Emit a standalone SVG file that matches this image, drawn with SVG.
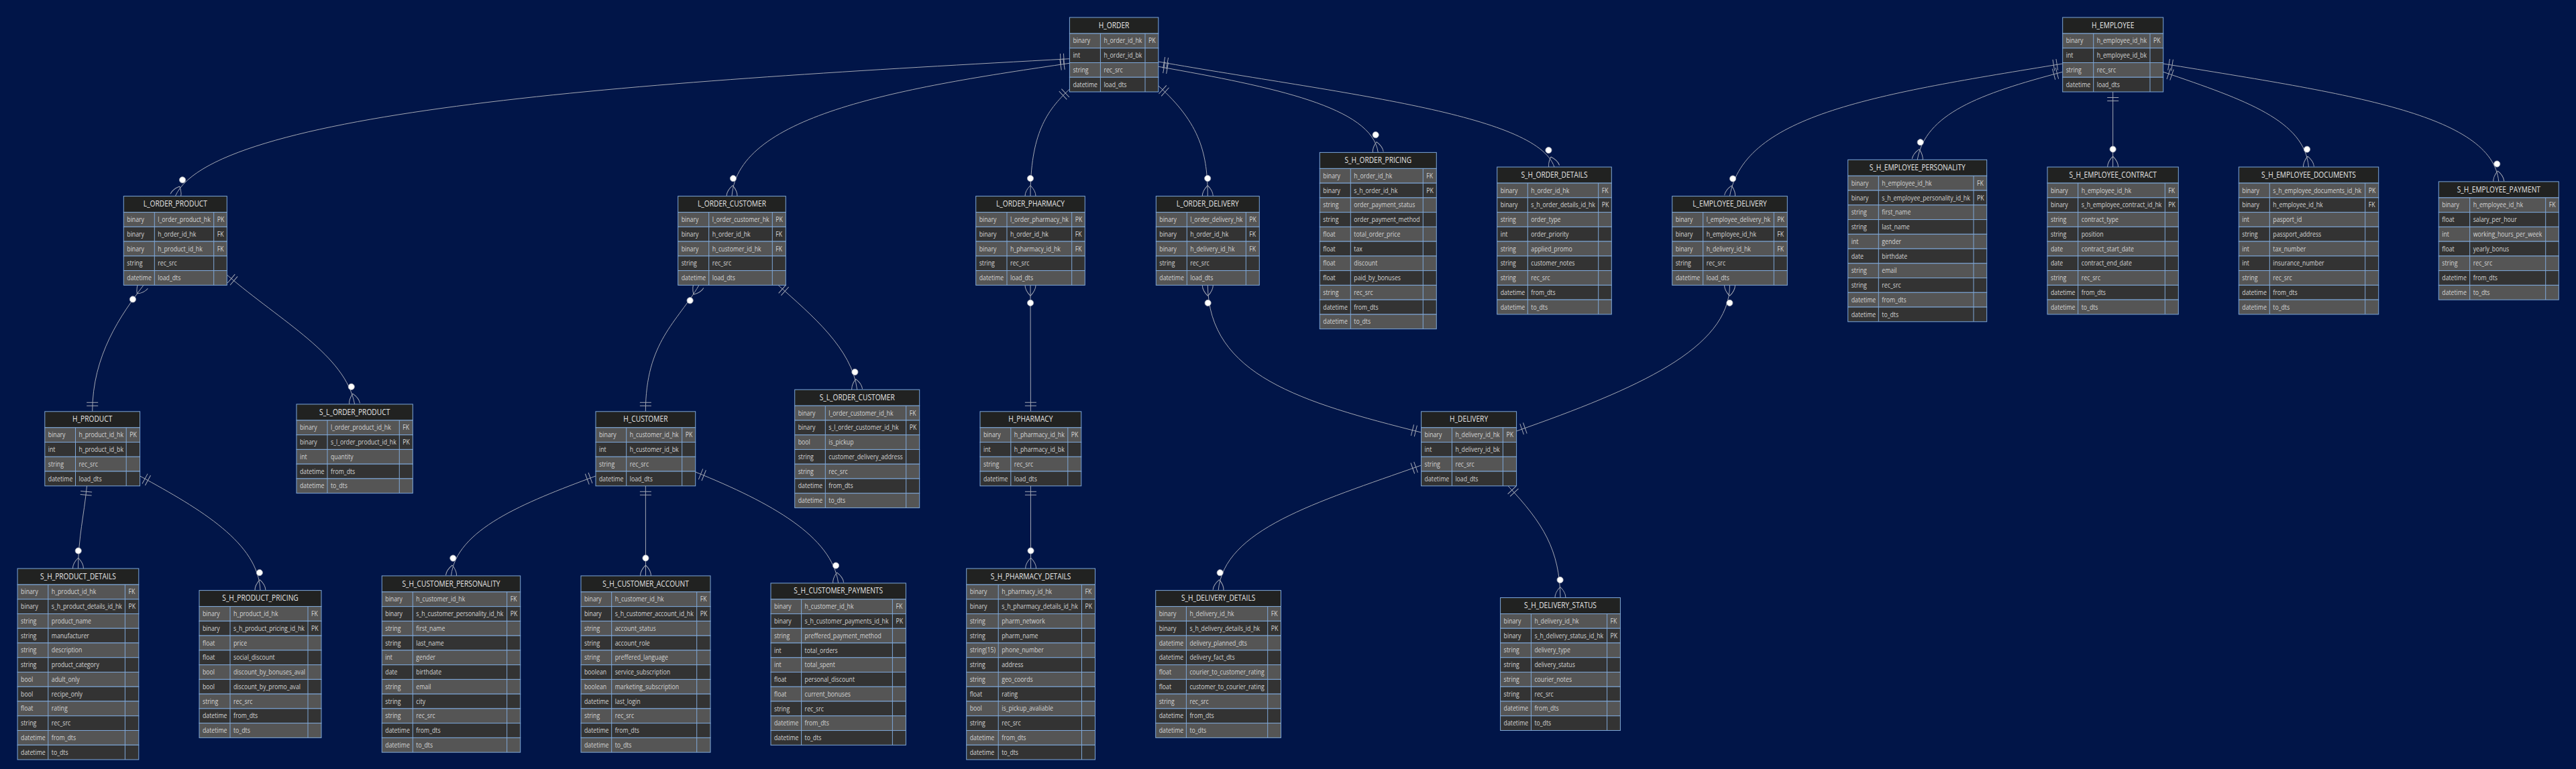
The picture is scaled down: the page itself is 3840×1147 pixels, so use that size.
<svg xmlns="http://www.w3.org/2000/svg" width="3840" height="1147" viewBox="0 0 3840 1147">
<defs>
<style>
.bg{fill:#011548}
.hd{fill:#212221;stroke:#7fa8d9;stroke-width:1}
.a{fill:#555555;stroke:#7fa8d9;stroke-width:1}
.b{fill:#333333;stroke:#7fa8d9;stroke-width:1}
.cl{fill:none;stroke:#7fa8d9;stroke-width:1}
.ht{font-family:'Open Sans','Noto Sans',sans-serif;font-size:12.3px;fill:#e6e6e6;text-anchor:middle}
.t{font-family:'Open Sans','Noto Sans',sans-serif;font-size:10.6px;fill:#d4d4d4}
.cn{fill:none;stroke:#a3a7b3;stroke-width:1;marker-start:url(#one);marker-end:url(#many)}
.mk{fill:none;stroke:#a3a7b3;stroke-width:1}
</style>
<marker id="one" viewBox="-20 -20 40 40" refX="0" refY="0" markerWidth="40" markerHeight="40" markerUnits="userSpaceOnUse" orient="auto">
<path class="mk" d="M8.5,-8.5V8.5M13.5,-8.5V8.5"/>
</marker>
<marker id="many" viewBox="-40 -20 44 40" refX="0" refY="0" markerWidth="44" markerHeight="40" markerUnits="userSpaceOnUse" orient="auto">
<path class="mk" d="M-16,0Q-8,-8 0,-8M-16,0Q-8,8 0,8"/>
<circle cx="-26.5" cy="0" r="4.6" fill="#ffffff" stroke="#a3a7b3" stroke-width="0.8"/>
</marker>
</defs>
<rect class="bg" width="3840" height="1147"/>

<g id="connectors">
<path class="cn" d="M1594.4,87.7C1000,120 320,160 261.3,292.6"/>
<path class="cn" d="M1594.4,94.3C1350,130 1100,170 1091,292.6"/>
<path class="cn" d="M1594.4,133C1560,165 1536,200 1536,292.6"/>
<path class="cn" d="M1726.8,128C1790,185 1800,230 1800.3,292.6"/>
<path class="cn" d="M1726.8,99.3C1900,130 2045,160 2054.3,227.4"/>
<path class="cn" d="M1726.8,92C2000,140 2290,170 2317,249.1"/>
<path class="cn" d="M137.7,613.8C137.7,530 180,470 214,425.35"/>
<path class="cn" d="M338.3,410C420,480 515,530 528.65,602.9"/>
<path class="cn" d="M129.5,724.8C125,770 117,800 116.45,848"/>
<path class="cn" d="M208.6,710C300,760 385,810 388,880.6"/>
<path class="cn" d="M962.35,613.8C962.35,510 1010,480 1042,425.35"/>
<path class="cn" d="M1160,425.35C1210,470 1270,520 1277.7,581.2"/>
<path class="cn" d="M888,710C780,750 680,790 672.5,858.9"/>
<path class="cn" d="M962.35,724.8L962.5,858.9"/>
<path class="cn" d="M1036.7,704C1150,750 1240,800 1249.7,869.8"/>
<path class="cn" d="M1536.4,613.8L1536,425.35"/>
<path class="cn" d="M1536.4,724.8L1536.6,848"/>
<path class="cn" d="M2118.6,645C1940,600 1802,560 1800.3,425.35"/>
<path class="cn" d="M2260.6,643C2440,580 2578,520 2578.5,425.35"/>
<path class="cn" d="M2118.6,694C1960,750 1825,790 1816.1,880.6"/>
<path class="cn" d="M2248,724.8C2300,780 2325,820 2326,891.5"/>
<path class="cn" d="M3074.7,95C2800,140 2600,170 2578.5,292.6"/>
<path class="cn" d="M3074.7,107.3C2950,140 2870,170 2858.2,238.3"/>
<path class="cn" d="M3149.7,137L3149.65,249.1"/>
<path class="cn" d="M3224.7,107.3C3350,150 3435,180 3441.5,249.1"/>
<path class="cn" d="M3224.7,95C3500,140 3715,170 3724.8,270.9"/>
</g>

<g id="H_ORDER" transform="translate(1594.4,26)">
<rect class="hd" width="132.4" height="24"/>
<rect class="a" y="24" width="132.4" height="21.75"/><rect class="b" y="45.75" width="132.4" height="21.75"/><rect class="a" y="67.5" width="132.4" height="21.75"/><rect class="b" y="89.25" width="132.4" height="21.75"/>
<path class="cl" d="M46,24V111M112.6,24V111"/>
<text class="ht" transform="translate(66.2,15.6) scale(.83,1)">H_ORDER</text>
<g class="t" transform="translate(5,0) scale(.825,1)"><text y="38.5">binary</text><text y="60.25">int</text><text y="82">string</text><text y="103.75">datetime</text></g>
<g class="t" transform="translate(51,0) scale(.825,1)"><text y="38.5">h_order_id_hk</text><text y="60.25">h_order_id_bk</text><text y="82">rec_src</text><text y="103.75">load_dts</text></g>
<g class="t" transform="translate(117.6,0) scale(.825,1)"><text y="38.5">PK</text></g>
</g>

<g id="L_ORDER_PRODUCT" transform="translate(184.3,292.6)">
<rect class="hd" width="154" height="24"/>
<rect class="a" y="24" width="154" height="21.75"/><rect class="b" y="45.75" width="154" height="21.75"/><rect class="a" y="67.5" width="154" height="21.75"/><rect class="b" y="89.25" width="154" height="21.75"/><rect class="a" y="111" width="154" height="21.75"/>
<path class="cl" d="M46,24V132.75M134.4,24V132.75"/>
<text class="ht" transform="translate(77,15.6) scale(.83,1)">L_ORDER_PRODUCT</text>
<g class="t" transform="translate(5,0) scale(.825,1)"><text y="38.5">binary</text><text y="60.25">binary</text><text y="82">binary</text><text y="103.75">string</text><text y="125.5">datetime</text></g>
<g class="t" transform="translate(51,0) scale(.825,1)"><text y="38.5">l_order_product_hk</text><text y="60.25">h_order_id_hk</text><text y="82">h_product_id_hk</text><text y="103.75">rec_src</text><text y="125.5">load_dts</text></g>
<g class="t" transform="translate(139.4,0) scale(.825,1)"><text y="38.5">PK</text><text y="60.25">FK</text><text y="82">FK</text></g>
</g>

<g id="L_ORDER_CUSTOMER" transform="translate(1010.7,292.6)">
<rect class="hd" width="160.6" height="24"/>
<rect class="a" y="24" width="160.6" height="21.75"/><rect class="b" y="45.75" width="160.6" height="21.75"/><rect class="a" y="67.5" width="160.6" height="21.75"/><rect class="b" y="89.25" width="160.6" height="21.75"/><rect class="a" y="111" width="160.6" height="21.75"/>
<path class="cl" d="M46,24V132.75M140.6,24V132.75"/>
<text class="ht" transform="translate(80.3,15.6) scale(.83,1)">L_ORDER_CUSTOMER</text>
<g class="t" transform="translate(5,0) scale(.825,1)"><text y="38.5">binary</text><text y="60.25">binary</text><text y="82">binary</text><text y="103.75">string</text><text y="125.5">datetime</text></g>
<g class="t" transform="translate(51,0) scale(.825,1)"><text y="38.5">l_order_customer_hk</text><text y="60.25">h_order_id_hk</text><text y="82">h_customer_id_hk</text><text y="103.75">rec_src</text><text y="125.5">load_dts</text></g>
<g class="t" transform="translate(145.6,0) scale(.825,1)"><text y="38.5">PK</text><text y="60.25">FK</text><text y="82">FK</text></g>
</g>

<g id="L_ORDER_PHARMACY" transform="translate(1454.7,292.6)">
<rect class="hd" width="162.6" height="24"/>
<rect class="a" y="24" width="162.6" height="21.75"/><rect class="b" y="45.75" width="162.6" height="21.75"/><rect class="a" y="67.5" width="162.6" height="21.75"/><rect class="b" y="89.25" width="162.6" height="21.75"/><rect class="a" y="111" width="162.6" height="21.75"/>
<path class="cl" d="M46.3,24V132.75M143,24V132.75"/>
<text class="ht" transform="translate(81.3,15.6) scale(.83,1)">L_ORDER_PHARMACY</text>
<g class="t" transform="translate(5,0) scale(.825,1)"><text y="38.5">binary</text><text y="60.25">binary</text><text y="82">binary</text><text y="103.75">string</text><text y="125.5">datetime</text></g>
<g class="t" transform="translate(51.3,0) scale(.825,1)"><text y="38.5">l_order_pharmacy_hk</text><text y="60.25">h_order_id_hk</text><text y="82">h_pharmacy_id_hk</text><text y="103.75">rec_src</text><text y="125.5">load_dts</text></g>
<g class="t" transform="translate(148,0) scale(.825,1)"><text y="38.5">PK</text><text y="60.25">FK</text><text y="82">FK</text></g>
</g>

<g id="L_ORDER_DELIVERY" transform="translate(1723.3,292.6)">
<rect class="hd" width="154" height="24"/>
<rect class="a" y="24" width="154" height="21.75"/><rect class="b" y="45.75" width="154" height="21.75"/><rect class="a" y="67.5" width="154" height="21.75"/><rect class="b" y="89.25" width="154" height="21.75"/><rect class="a" y="111" width="154" height="21.75"/>
<path class="cl" d="M46,24V132.75M134,24V132.75"/>
<text class="ht" transform="translate(77,15.6) scale(.83,1)">L_ORDER_DELIVERY</text>
<g class="t" transform="translate(5,0) scale(.825,1)"><text y="38.5">binary</text><text y="60.25">binary</text><text y="82">binary</text><text y="103.75">string</text><text y="125.5">datetime</text></g>
<g class="t" transform="translate(51,0) scale(.825,1)"><text y="38.5">l_order_delivery_hk</text><text y="60.25">h_order_id_hk</text><text y="82">h_delivery_id_hk</text><text y="103.75">rec_src</text><text y="125.5">load_dts</text></g>
<g class="t" transform="translate(139,0) scale(.825,1)"><text y="38.5">PK</text><text y="60.25">FK</text><text y="82">FK</text></g>
</g>

<g id="S_H_ORDER_PRICING" transform="translate(1967.3,227.4)">
<rect class="hd" width="174" height="24"/>
<rect class="a" y="24" width="174" height="21.75"/><rect class="b" y="45.75" width="174" height="21.75"/><rect class="a" y="67.5" width="174" height="21.75"/><rect class="b" y="89.25" width="174" height="21.75"/><rect class="a" y="111" width="174" height="21.75"/><rect class="b" y="132.75" width="174" height="21.75"/><rect class="a" y="154.5" width="174" height="21.75"/><rect class="b" y="176.25" width="174" height="21.75"/><rect class="a" y="198" width="174" height="21.75"/><rect class="b" y="219.75" width="174" height="21.75"/><rect class="a" y="241.5" width="174" height="21.75"/>
<path class="cl" d="M46,24V263.25M154,24V263.25"/>
<text class="ht" transform="translate(87,15.6) scale(.83,1)">S_H_ORDER_PRICING</text>
<g class="t" transform="translate(5,0) scale(.825,1)"><text y="38.5">binary</text><text y="60.25">binary</text><text y="82">string</text><text y="103.75">string</text><text y="125.5">float</text><text y="147.25">float</text><text y="169">float</text><text y="190.75">float</text><text y="212.5">string</text><text y="234.25">datetime</text><text y="256">datetime</text></g>
<g class="t" transform="translate(51,0) scale(.825,1)"><text y="38.5">h_order_id_hk</text><text y="60.25">s_h_order_id_hk</text><text y="82">order_payment_status</text><text y="103.75">order_payment_method</text><text y="125.5">total_order_price</text><text y="147.25">tax</text><text y="169">discount</text><text y="190.75">paid_by_bonuses</text><text y="212.5">rec_src</text><text y="234.25">from_dts</text><text y="256">to_dts</text></g>
<g class="t" transform="translate(159,0) scale(.825,1)"><text y="38.5">FK</text><text y="60.25">PK</text></g>
</g>

<g id="S_H_ORDER_DETAILS" transform="translate(2231.7,249.1)">
<rect class="hd" width="170.6" height="24"/>
<rect class="a" y="24" width="170.6" height="21.75"/><rect class="b" y="45.75" width="170.6" height="21.75"/><rect class="a" y="67.5" width="170.6" height="21.75"/><rect class="b" y="89.25" width="170.6" height="21.75"/><rect class="a" y="111" width="170.6" height="21.75"/><rect class="b" y="132.75" width="170.6" height="21.75"/><rect class="a" y="154.5" width="170.6" height="21.75"/><rect class="b" y="176.25" width="170.6" height="21.75"/><rect class="a" y="198" width="170.6" height="21.75"/>
<path class="cl" d="M45.6,24V219.75M151,24V219.75"/>
<text class="ht" transform="translate(85.3,15.6) scale(.83,1)">S_H_ORDER_DETAILS</text>
<g class="t" transform="translate(5,0) scale(.825,1)"><text y="38.5">binary</text><text y="60.25">binary</text><text y="82">string</text><text y="103.75">int</text><text y="125.5">string</text><text y="147.25">string</text><text y="169">string</text><text y="190.75">datetime</text><text y="212.5">datetime</text></g>
<g class="t" transform="translate(50.6,0) scale(.825,1)"><text y="38.5">h_order_id_hk</text><text y="60.25">s_h_order_details_id_hk</text><text y="82">order_type</text><text y="103.75">order_priority</text><text y="125.5">applied_promo</text><text y="147.25">customer_notes</text><text y="169">rec_src</text><text y="190.75">from_dts</text><text y="212.5">to_dts</text></g>
<g class="t" transform="translate(156,0) scale(.825,1)"><text y="38.5">FK</text><text y="60.25">PK</text></g>
</g>

<g id="H_EMPLOYEE" transform="translate(3074.7,26)">
<rect class="hd" width="150" height="24"/>
<rect class="a" y="24" width="150" height="21.75"/><rect class="b" y="45.75" width="150" height="21.75"/><rect class="a" y="67.5" width="150" height="21.75"/><rect class="b" y="89.25" width="150" height="21.75"/>
<path class="cl" d="M46,24V111M130.3,24V111"/>
<text class="ht" transform="translate(75,15.6) scale(.83,1)">H_EMPLOYEE</text>
<g class="t" transform="translate(5,0) scale(.825,1)"><text y="38.5">binary</text><text y="60.25">int</text><text y="82">string</text><text y="103.75">datetime</text></g>
<g class="t" transform="translate(51,0) scale(.825,1)"><text y="38.5">h_employee_id_hk</text><text y="60.25">h_employee_id_bk</text><text y="82">rec_src</text><text y="103.75">load_dts</text></g>
<g class="t" transform="translate(135.3,0) scale(.825,1)"><text y="38.5">PK</text></g>
</g>

<g id="L_EMPLOYEE_DELIVERY" transform="translate(2492.7,292.6)">
<rect class="hd" width="171.6" height="24"/>
<rect class="a" y="24" width="171.6" height="21.75"/><rect class="b" y="45.75" width="171.6" height="21.75"/><rect class="a" y="67.5" width="171.6" height="21.75"/><rect class="b" y="89.25" width="171.6" height="21.75"/><rect class="a" y="111" width="171.6" height="21.75"/>
<path class="cl" d="M46,24V132.75M151.6,24V132.75"/>
<text class="ht" transform="translate(85.8,15.6) scale(.83,1)">L_EMPLOYEE_DELIVERY</text>
<g class="t" transform="translate(5,0) scale(.825,1)"><text y="38.5">binary</text><text y="60.25">binary</text><text y="82">binary</text><text y="103.75">string</text><text y="125.5">datetime</text></g>
<g class="t" transform="translate(51,0) scale(.825,1)"><text y="38.5">l_employee_delivery_hk</text><text y="60.25">h_employee_id_hk</text><text y="82">h_delivery_id_hk</text><text y="103.75">rec_src</text><text y="125.5">load_dts</text></g>
<g class="t" transform="translate(156.6,0) scale(.825,1)"><text y="38.5">PK</text><text y="60.25">FK</text><text y="82">FK</text></g>
</g>

<g id="S_H_EMPLOYEE_PERSONALITY" transform="translate(2754.7,238.3)">
<rect class="hd" width="207" height="24"/>
<rect class="a" y="24" width="207" height="21.75"/><rect class="b" y="45.75" width="207" height="21.75"/><rect class="a" y="67.5" width="207" height="21.75"/><rect class="b" y="89.25" width="207" height="21.75"/><rect class="a" y="111" width="207" height="21.75"/><rect class="b" y="132.75" width="207" height="21.75"/><rect class="a" y="154.5" width="207" height="21.75"/><rect class="b" y="176.25" width="207" height="21.75"/><rect class="a" y="198" width="207" height="21.75"/><rect class="b" y="219.75" width="207" height="21.75"/>
<path class="cl" d="M45.6,24V241.5M187.3,24V241.5"/>
<text class="ht" transform="translate(103.5,15.6) scale(.83,1)">S_H_EMPLOYEE_PERSONALITY</text>
<g class="t" transform="translate(5,0) scale(.825,1)"><text y="38.5">binary</text><text y="60.25">binary</text><text y="82">string</text><text y="103.75">string</text><text y="125.5">int</text><text y="147.25">date</text><text y="169">string</text><text y="190.75">string</text><text y="212.5">datetime</text><text y="234.25">datetime</text></g>
<g class="t" transform="translate(50.6,0) scale(.825,1)"><text y="38.5">h_employee_id_hk</text><text y="60.25">s_h_employee_personality_id_hk</text><text y="82">first_name</text><text y="103.75">last_name</text><text y="125.5">gender</text><text y="147.25">birthdate</text><text y="169">email</text><text y="190.75">rec_src</text><text y="212.5">from_dts</text><text y="234.25">to_dts</text></g>
<g class="t" transform="translate(192.3,0) scale(.825,1)"><text y="38.5">FK</text><text y="60.25">PK</text></g>
</g>

<g id="S_H_EMPLOYEE_CONTRACT" transform="translate(3052,249.1)">
<rect class="hd" width="195.3" height="24"/>
<rect class="a" y="24" width="195.3" height="21.75"/><rect class="b" y="45.75" width="195.3" height="21.75"/><rect class="a" y="67.5" width="195.3" height="21.75"/><rect class="b" y="89.25" width="195.3" height="21.75"/><rect class="a" y="111" width="195.3" height="21.75"/><rect class="b" y="132.75" width="195.3" height="21.75"/><rect class="a" y="154.5" width="195.3" height="21.75"/><rect class="b" y="176.25" width="195.3" height="21.75"/><rect class="a" y="198" width="195.3" height="21.75"/>
<path class="cl" d="M45.7,24V219.75M175.3,24V219.75"/>
<text class="ht" transform="translate(97.65,15.6) scale(.83,1)">S_H_EMPLOYEE_CONTRACT</text>
<g class="t" transform="translate(5,0) scale(.825,1)"><text y="38.5">binary</text><text y="60.25">binary</text><text y="82">string</text><text y="103.75">string</text><text y="125.5">date</text><text y="147.25">date</text><text y="169">string</text><text y="190.75">datetime</text><text y="212.5">datetime</text></g>
<g class="t" transform="translate(50.7,0) scale(.825,1)"><text y="38.5">h_employee_id_hk</text><text y="60.25">s_h_employee_contract_id_hk</text><text y="82">contract_type</text><text y="103.75">position</text><text y="125.5">contract_start_date</text><text y="147.25">contract_end_date</text><text y="169">rec_src</text><text y="190.75">from_dts</text><text y="212.5">to_dts</text></g>
<g class="t" transform="translate(180.3,0) scale(.825,1)"><text y="38.5">FK</text><text y="60.25">PK</text></g>
</g>

<g id="S_H_EMPLOYEE_DOCUMENTS" transform="translate(3337.3,249.1)">
<rect class="hd" width="208.4" height="24"/>
<rect class="a" y="24" width="208.4" height="21.75"/><rect class="b" y="45.75" width="208.4" height="21.75"/><rect class="a" y="67.5" width="208.4" height="21.75"/><rect class="b" y="89.25" width="208.4" height="21.75"/><rect class="a" y="111" width="208.4" height="21.75"/><rect class="b" y="132.75" width="208.4" height="21.75"/><rect class="a" y="154.5" width="208.4" height="21.75"/><rect class="b" y="176.25" width="208.4" height="21.75"/><rect class="a" y="198" width="208.4" height="21.75"/>
<path class="cl" d="M46,24V219.75M188.4,24V219.75"/>
<text class="ht" transform="translate(104.2,15.6) scale(.83,1)">S_H_EMPLOYEE_DOCUMENTS</text>
<g class="t" transform="translate(5,0) scale(.825,1)"><text y="38.5">binary</text><text y="60.25">binary</text><text y="82">int</text><text y="103.75">string</text><text y="125.5">int</text><text y="147.25">int</text><text y="169">string</text><text y="190.75">datetime</text><text y="212.5">datetime</text></g>
<g class="t" transform="translate(51,0) scale(.825,1)"><text y="38.5">s_h_employee_documents_id_hk</text><text y="60.25">h_employee_id_hk</text><text y="82">pasport_id</text><text y="103.75">passport_address</text><text y="125.5">tax_number</text><text y="147.25">insurance_number</text><text y="169">rec_src</text><text y="190.75">from_dts</text><text y="212.5">to_dts</text></g>
<g class="t" transform="translate(193.4,0) scale(.825,1)"><text y="38.5">PK</text><text y="60.25">FK</text></g>
</g>

<g id="S_H_EMPLOYEE_PAYMENT" transform="translate(3635.3,270.9)">
<rect class="hd" width="179" height="24"/>
<rect class="a" y="24" width="179" height="21.75"/><rect class="b" y="45.75" width="179" height="21.75"/><rect class="a" y="67.5" width="179" height="21.75"/><rect class="b" y="89.25" width="179" height="21.75"/><rect class="a" y="111" width="179" height="21.75"/><rect class="b" y="132.75" width="179" height="21.75"/><rect class="a" y="154.5" width="179" height="21.75"/>
<path class="cl" d="M46.4,24V176.25M159.4,24V176.25"/>
<text class="ht" transform="translate(89.5,15.6) scale(.83,1)">S_H_EMPLOYEE_PAYMENT</text>
<g class="t" transform="translate(5,0) scale(.825,1)"><text y="38.5">binary</text><text y="60.25">float</text><text y="82">int</text><text y="103.75">float</text><text y="125.5">string</text><text y="147.25">datetime</text><text y="169">datetime</text></g>
<g class="t" transform="translate(51.4,0) scale(.825,1)"><text y="38.5">h_employee_id_hk</text><text y="60.25">salary_per_hour</text><text y="82">working_hours_per_week</text><text y="103.75">yearly_bonus</text><text y="125.5">rec_src</text><text y="147.25">from_dts</text><text y="169">to_dts</text></g>
<g class="t" transform="translate(164.4,0) scale(.825,1)"><text y="38.5">FK</text></g>
</g>

<g id="H_PRODUCT" transform="translate(66.8,613.8)">
<rect class="hd" width="141.8" height="24"/>
<rect class="a" y="24" width="141.8" height="21.75"/><rect class="b" y="45.75" width="141.8" height="21.75"/><rect class="a" y="67.5" width="141.8" height="21.75"/><rect class="b" y="89.25" width="141.8" height="21.75"/>
<path class="cl" d="M45.7,24V111M121.4,24V111"/>
<text class="ht" transform="translate(70.9,15.6) scale(.83,1)">H_PRODUCT</text>
<g class="t" transform="translate(5,0) scale(.825,1)"><text y="38.5">binary</text><text y="60.25">int</text><text y="82">string</text><text y="103.75">datetime</text></g>
<g class="t" transform="translate(50.7,0) scale(.825,1)"><text y="38.5">h_product_id_hk</text><text y="60.25">h_product_id_bk</text><text y="82">rec_src</text><text y="103.75">load_dts</text></g>
<g class="t" transform="translate(126.4,0) scale(.825,1)"><text y="38.5">PK</text></g>
</g>

<g id="S_L_ORDER_PRODUCT" transform="translate(442,602.9)">
<rect class="hd" width="173.3" height="24"/>
<rect class="a" y="24" width="173.3" height="21.75"/><rect class="b" y="45.75" width="173.3" height="21.75"/><rect class="a" y="67.5" width="173.3" height="21.75"/><rect class="b" y="89.25" width="173.3" height="21.75"/><rect class="a" y="111" width="173.3" height="21.75"/>
<path class="cl" d="M46,24V132.75M153.3,24V132.75"/>
<text class="ht" transform="translate(86.65,15.6) scale(.83,1)">S_L_ORDER_PRODUCT</text>
<g class="t" transform="translate(5,0) scale(.825,1)"><text y="38.5">binary</text><text y="60.25">binary</text><text y="82">int</text><text y="103.75">datetime</text><text y="125.5">datetime</text></g>
<g class="t" transform="translate(51,0) scale(.825,1)"><text y="38.5">l_order_product_id_hk</text><text y="60.25">s_l_order_product_id_hk</text><text y="82">quantity</text><text y="103.75">from_dts</text><text y="125.5">to_dts</text></g>
<g class="t" transform="translate(158.3,0) scale(.825,1)"><text y="38.5">FK</text><text y="60.25">PK</text></g>
</g>

<g id="H_CUSTOMER" transform="translate(888,613.8)">
<rect class="hd" width="148.7" height="24"/>
<rect class="a" y="24" width="148.7" height="21.75"/><rect class="b" y="45.75" width="148.7" height="21.75"/><rect class="a" y="67.5" width="148.7" height="21.75"/><rect class="b" y="89.25" width="148.7" height="21.75"/>
<path class="cl" d="M45.7,24V111M128.7,24V111"/>
<text class="ht" transform="translate(74.35,15.6) scale(.83,1)">H_CUSTOMER</text>
<g class="t" transform="translate(5,0) scale(.825,1)"><text y="38.5">binary</text><text y="60.25">int</text><text y="82">string</text><text y="103.75">datetime</text></g>
<g class="t" transform="translate(50.7,0) scale(.825,1)"><text y="38.5">h_customer_id_hk</text><text y="60.25">h_customer_id_bk</text><text y="82">rec_src</text><text y="103.75">load_dts</text></g>
<g class="t" transform="translate(133.7,0) scale(.825,1)"><text y="38.5">PK</text></g>
</g>

<g id="S_L_ORDER_CUSTOMER" transform="translate(1184.7,581.2)">
<rect class="hd" width="186" height="24"/>
<rect class="a" y="24" width="186" height="21.75"/><rect class="b" y="45.75" width="186" height="21.75"/><rect class="a" y="67.5" width="186" height="21.75"/><rect class="b" y="89.25" width="186" height="21.75"/><rect class="a" y="111" width="186" height="21.75"/><rect class="b" y="132.75" width="186" height="21.75"/><rect class="a" y="154.5" width="186" height="21.75"/>
<path class="cl" d="M45.6,24V176.25M166,24V176.25"/>
<text class="ht" transform="translate(93,15.6) scale(.83,1)">S_L_ORDER_CUSTOMER</text>
<g class="t" transform="translate(5,0) scale(.825,1)"><text y="38.5">binary</text><text y="60.25">binary</text><text y="82">bool</text><text y="103.75">string</text><text y="125.5">string</text><text y="147.25">datetime</text><text y="169">datetime</text></g>
<g class="t" transform="translate(50.6,0) scale(.825,1)"><text y="38.5">l_order_customer_id_hk</text><text y="60.25">s_l_order_customer_id_hk</text><text y="82">is_pickup</text><text y="103.75">customer_delivery_address</text><text y="125.5">rec_src</text><text y="147.25">from_dts</text><text y="169">to_dts</text></g>
<g class="t" transform="translate(171,0) scale(.825,1)"><text y="38.5">FK</text><text y="60.25">PK</text></g>
</g>

<g id="H_PHARMACY" transform="translate(1461,613.8)">
<rect class="hd" width="150.8" height="24"/>
<rect class="a" y="24" width="150.8" height="21.75"/><rect class="b" y="45.75" width="150.8" height="21.75"/><rect class="a" y="67.5" width="150.8" height="21.75"/><rect class="b" y="89.25" width="150.8" height="21.75"/>
<path class="cl" d="M45.8,24V111M130.8,24V111"/>
<text class="ht" transform="translate(75.4,15.6) scale(.83,1)">H_PHARMACY</text>
<g class="t" transform="translate(5,0) scale(.825,1)"><text y="38.5">binary</text><text y="60.25">int</text><text y="82">string</text><text y="103.75">datetime</text></g>
<g class="t" transform="translate(50.8,0) scale(.825,1)"><text y="38.5">h_pharmacy_id_hk</text><text y="60.25">h_pharmacy_id_bk</text><text y="82">rec_src</text><text y="103.75">load_dts</text></g>
<g class="t" transform="translate(135.8,0) scale(.825,1)"><text y="38.5">PK</text></g>
</g>

<g id="H_DELIVERY" transform="translate(2118.6,613.8)">
<rect class="hd" width="142" height="24"/>
<rect class="a" y="24" width="142" height="21.75"/><rect class="b" y="45.75" width="142" height="21.75"/><rect class="a" y="67.5" width="142" height="21.75"/><rect class="b" y="89.25" width="142" height="21.75"/>
<path class="cl" d="M45.8,24V111M121.8,24V111"/>
<text class="ht" transform="translate(71,15.6) scale(.83,1)">H_DELIVERY</text>
<g class="t" transform="translate(5,0) scale(.825,1)"><text y="38.5">binary</text><text y="60.25">int</text><text y="82">string</text><text y="103.75">datetime</text></g>
<g class="t" transform="translate(50.8,0) scale(.825,1)"><text y="38.5">h_delivery_id_hk</text><text y="60.25">h_delivery_id_bk</text><text y="82">rec_src</text><text y="103.75">load_dts</text></g>
<g class="t" transform="translate(126.8,0) scale(.825,1)"><text y="38.5">PK</text></g>
</g>

<g id="S_H_PRODUCT_DETAILS" transform="translate(26.1,848)">
<rect class="hd" width="180.7" height="24"/>
<rect class="a" y="24" width="180.7" height="21.75"/><rect class="b" y="45.75" width="180.7" height="21.75"/><rect class="a" y="67.5" width="180.7" height="21.75"/><rect class="b" y="89.25" width="180.7" height="21.75"/><rect class="a" y="111" width="180.7" height="21.75"/><rect class="b" y="132.75" width="180.7" height="21.75"/><rect class="a" y="154.5" width="180.7" height="21.75"/><rect class="b" y="176.25" width="180.7" height="21.75"/><rect class="a" y="198" width="180.7" height="21.75"/><rect class="b" y="219.75" width="180.7" height="21.75"/><rect class="a" y="241.5" width="180.7" height="21.75"/><rect class="b" y="263.25" width="180.7" height="21.75"/>
<path class="cl" d="M45.7,24V285M160.3,24V285"/>
<text class="ht" transform="translate(90.35,15.6) scale(.83,1)">S_H_PRODUCT_DETAILS</text>
<g class="t" transform="translate(5,0) scale(.825,1)"><text y="38.5">binary</text><text y="60.25">binary</text><text y="82">string</text><text y="103.75">string</text><text y="125.5">string</text><text y="147.25">string</text><text y="169">bool</text><text y="190.75">bool</text><text y="212.5">float</text><text y="234.25">string</text><text y="256">datetime</text><text y="277.75">datetime</text></g>
<g class="t" transform="translate(50.7,0) scale(.825,1)"><text y="38.5">h_product_id_hk</text><text y="60.25">s_h_product_details_id_hk</text><text y="82">product_name</text><text y="103.75">manufacturer</text><text y="125.5">description</text><text y="147.25">product_category</text><text y="169">adult_only</text><text y="190.75">recipe_only</text><text y="212.5">rating</text><text y="234.25">rec_src</text><text y="256">from_dts</text><text y="277.75">to_dts</text></g>
<g class="t" transform="translate(165.3,0) scale(.825,1)"><text y="38.5">FK</text><text y="60.25">PK</text></g>
</g>

<g id="S_H_PRODUCT_PRICING" transform="translate(297,880.6)">
<rect class="hd" width="182" height="24"/>
<rect class="a" y="24" width="182" height="21.75"/><rect class="b" y="45.75" width="182" height="21.75"/><rect class="a" y="67.5" width="182" height="21.75"/><rect class="b" y="89.25" width="182" height="21.75"/><rect class="a" y="111" width="182" height="21.75"/><rect class="b" y="132.75" width="182" height="21.75"/><rect class="a" y="154.5" width="182" height="21.75"/><rect class="b" y="176.25" width="182" height="21.75"/><rect class="a" y="198" width="182" height="21.75"/>
<path class="cl" d="M46,24V219.75M162,24V219.75"/>
<text class="ht" transform="translate(91,15.6) scale(.83,1)">S_H_PRODUCT_PRICING</text>
<g class="t" transform="translate(5,0) scale(.825,1)"><text y="38.5">binary</text><text y="60.25">binary</text><text y="82">float</text><text y="103.75">float</text><text y="125.5">bool</text><text y="147.25">bool</text><text y="169">string</text><text y="190.75">datetime</text><text y="212.5">datetime</text></g>
<g class="t" transform="translate(51,0) scale(.825,1)"><text y="38.5">h_product_id_hk</text><text y="60.25">s_h_product_pricing_id_hk</text><text y="82">price</text><text y="103.75">social_discount</text><text y="125.5">discount_by_bonuses_aval</text><text y="147.25">discount_by_promo_aval</text><text y="169">rec_src</text><text y="190.75">from_dts</text><text y="212.5">to_dts</text></g>
<g class="t" transform="translate(167,0) scale(.825,1)"><text y="38.5">FK</text><text y="60.25">PK</text></g>
</g>

<g id="S_H_CUSTOMER_PERSONALITY" transform="translate(569.3,858.9)">
<rect class="hd" width="206.4" height="24"/>
<rect class="a" y="24" width="206.4" height="21.75"/><rect class="b" y="45.75" width="206.4" height="21.75"/><rect class="a" y="67.5" width="206.4" height="21.75"/><rect class="b" y="89.25" width="206.4" height="21.75"/><rect class="a" y="111" width="206.4" height="21.75"/><rect class="b" y="132.75" width="206.4" height="21.75"/><rect class="a" y="154.5" width="206.4" height="21.75"/><rect class="b" y="176.25" width="206.4" height="21.75"/><rect class="a" y="198" width="206.4" height="21.75"/><rect class="b" y="219.75" width="206.4" height="21.75"/><rect class="a" y="241.5" width="206.4" height="21.75"/>
<path class="cl" d="M46,24V263.25M186.4,24V263.25"/>
<text class="ht" transform="translate(103.2,15.6) scale(.83,1)">S_H_CUSTOMER_PERSONALITY</text>
<g class="t" transform="translate(5,0) scale(.825,1)"><text y="38.5">binary</text><text y="60.25">binary</text><text y="82">string</text><text y="103.75">string</text><text y="125.5">int</text><text y="147.25">date</text><text y="169">string</text><text y="190.75">string</text><text y="212.5">string</text><text y="234.25">datetime</text><text y="256">datetime</text></g>
<g class="t" transform="translate(51,0) scale(.825,1)"><text y="38.5">h_customer_id_hk</text><text y="60.25">s_h_customer_personality_id_hk</text><text y="82">first_name</text><text y="103.75">last_name</text><text y="125.5">gender</text><text y="147.25">birthdate</text><text y="169">email</text><text y="190.75">city</text><text y="212.5">rec_src</text><text y="234.25">from_dts</text><text y="256">to_dts</text></g>
<g class="t" transform="translate(191.4,0) scale(.825,1)"><text y="38.5">FK</text><text y="60.25">PK</text></g>
</g>

<g id="S_H_CUSTOMER_ACCOUNT" transform="translate(866,858.9)">
<rect class="hd" width="193" height="24"/>
<rect class="a" y="24" width="193" height="21.75"/><rect class="b" y="45.75" width="193" height="21.75"/><rect class="a" y="67.5" width="193" height="21.75"/><rect class="b" y="89.25" width="193" height="21.75"/><rect class="a" y="111" width="193" height="21.75"/><rect class="b" y="132.75" width="193" height="21.75"/><rect class="a" y="154.5" width="193" height="21.75"/><rect class="b" y="176.25" width="193" height="21.75"/><rect class="a" y="198" width="193" height="21.75"/><rect class="b" y="219.75" width="193" height="21.75"/><rect class="a" y="241.5" width="193" height="21.75"/>
<path class="cl" d="M45.7,24V263.25M172.7,24V263.25"/>
<text class="ht" transform="translate(96.5,15.6) scale(.83,1)">S_H_CUSTOMER_ACCOUNT</text>
<g class="t" transform="translate(5,0) scale(.825,1)"><text y="38.5">binary</text><text y="60.25">binary</text><text y="82">string</text><text y="103.75">string</text><text y="125.5">string</text><text y="147.25">boolean</text><text y="169">boolean</text><text y="190.75">datetime</text><text y="212.5">string</text><text y="234.25">datetime</text><text y="256">datetime</text></g>
<g class="t" transform="translate(50.7,0) scale(.825,1)"><text y="38.5">h_customer_id_hk</text><text y="60.25">s_h_customer_account_id_hk</text><text y="82">account_status</text><text y="103.75">account_role</text><text y="125.5">preffered_language</text><text y="147.25">service_subscription</text><text y="169">marketing_subscription</text><text y="190.75">last_login</text><text y="212.5">rec_src</text><text y="234.25">from_dts</text><text y="256">to_dts</text></g>
<g class="t" transform="translate(177.7,0) scale(.825,1)"><text y="38.5">FK</text><text y="60.25">PK</text></g>
</g>

<g id="S_H_CUSTOMER_PAYMENTS" transform="translate(1149,869.8)">
<rect class="hd" width="201.4" height="24"/>
<rect class="a" y="24" width="201.4" height="21.75"/><rect class="b" y="45.75" width="201.4" height="21.75"/><rect class="a" y="67.5" width="201.4" height="21.75"/><rect class="b" y="89.25" width="201.4" height="21.75"/><rect class="a" y="111" width="201.4" height="21.75"/><rect class="b" y="132.75" width="201.4" height="21.75"/><rect class="a" y="154.5" width="201.4" height="21.75"/><rect class="b" y="176.25" width="201.4" height="21.75"/><rect class="a" y="198" width="201.4" height="21.75"/><rect class="b" y="219.75" width="201.4" height="21.75"/>
<path class="cl" d="M45.6,24V241.5M181.4,24V241.5"/>
<text class="ht" transform="translate(100.7,15.6) scale(.83,1)">S_H_CUSTOMER_PAYMENTS</text>
<g class="t" transform="translate(5,0) scale(.825,1)"><text y="38.5">binary</text><text y="60.25">binary</text><text y="82">string</text><text y="103.75">int</text><text y="125.5">int</text><text y="147.25">float</text><text y="169">float</text><text y="190.75">string</text><text y="212.5">datetime</text><text y="234.25">datetime</text></g>
<g class="t" transform="translate(50.6,0) scale(.825,1)"><text y="38.5">h_customer_id_hk</text><text y="60.25">s_h_customer_payments_id_hk</text><text y="82">preffered_payment_method</text><text y="103.75">total_orders</text><text y="125.5">total_spent</text><text y="147.25">personal_discount</text><text y="169">current_bonuses</text><text y="190.75">rec_src</text><text y="212.5">from_dts</text><text y="234.25">to_dts</text></g>
<g class="t" transform="translate(186.4,0) scale(.825,1)"><text y="38.5">FK</text><text y="60.25">PK</text></g>
</g>

<g id="S_H_PHARMACY_DETAILS" transform="translate(1440.7,848)">
<rect class="hd" width="191.8" height="24"/>
<rect class="a" y="24" width="191.8" height="21.75"/><rect class="b" y="45.75" width="191.8" height="21.75"/><rect class="a" y="67.5" width="191.8" height="21.75"/><rect class="b" y="89.25" width="191.8" height="21.75"/><rect class="a" y="111" width="191.8" height="21.75"/><rect class="b" y="132.75" width="191.8" height="21.75"/><rect class="a" y="154.5" width="191.8" height="21.75"/><rect class="b" y="176.25" width="191.8" height="21.75"/><rect class="a" y="198" width="191.8" height="21.75"/><rect class="b" y="219.75" width="191.8" height="21.75"/><rect class="a" y="241.5" width="191.8" height="21.75"/><rect class="b" y="263.25" width="191.8" height="21.75"/>
<path class="cl" d="M47.5,24V285M171.8,24V285"/>
<text class="ht" transform="translate(95.9,15.6) scale(.83,1)">S_H_PHARMACY_DETAILS</text>
<g class="t" transform="translate(5,0) scale(.825,1)"><text y="38.5">binary</text><text y="60.25">binary</text><text y="82">string</text><text y="103.75">string</text><text y="125.5">string(15)</text><text y="147.25">string</text><text y="169">string</text><text y="190.75">float</text><text y="212.5">bool</text><text y="234.25">string</text><text y="256">datetime</text><text y="277.75">datetime</text></g>
<g class="t" transform="translate(52.5,0) scale(.825,1)"><text y="38.5">h_pharmacy_id_hk</text><text y="60.25">s_h_pharmacy_details_id_hk</text><text y="82">pharm_network</text><text y="103.75">pharm_name</text><text y="125.5">phone_number</text><text y="147.25">address</text><text y="169">geo_coords</text><text y="190.75">rating</text><text y="212.5">is_pickup_avaliable</text><text y="234.25">rec_src</text><text y="256">from_dts</text><text y="277.75">to_dts</text></g>
<g class="t" transform="translate(176.8,0) scale(.825,1)"><text y="38.5">FK</text><text y="60.25">PK</text></g>
</g>

<g id="S_H_DELIVERY_DETAILS" transform="translate(1722.7,880.6)">
<rect class="hd" width="186.8" height="24"/>
<rect class="a" y="24" width="186.8" height="21.75"/><rect class="b" y="45.75" width="186.8" height="21.75"/><rect class="a" y="67.5" width="186.8" height="21.75"/><rect class="b" y="89.25" width="186.8" height="21.75"/><rect class="a" y="111" width="186.8" height="21.75"/><rect class="b" y="132.75" width="186.8" height="21.75"/><rect class="a" y="154.5" width="186.8" height="21.75"/><rect class="b" y="176.25" width="186.8" height="21.75"/><rect class="a" y="198" width="186.8" height="21.75"/>
<path class="cl" d="M45.7,24V219.75M167,24V219.75"/>
<text class="ht" transform="translate(93.4,15.6) scale(.83,1)">S_H_DELIVERY_DETAILS</text>
<g class="t" transform="translate(5,0) scale(.825,1)"><text y="38.5">binary</text><text y="60.25">binary</text><text y="82">datetime</text><text y="103.75">datetime</text><text y="125.5">float</text><text y="147.25">float</text><text y="169">string</text><text y="190.75">datetime</text><text y="212.5">datetime</text></g>
<g class="t" transform="translate(50.7,0) scale(.825,1)"><text y="38.5">h_delivery_id_hk</text><text y="60.25">s_h_delivery_details_id_hk</text><text y="82">delivery_planned_dts</text><text y="103.75">delivery_fact_dts</text><text y="125.5">courier_to_customer_rating</text><text y="147.25">customer_to_courier_rating</text><text y="169">rec_src</text><text y="190.75">from_dts</text><text y="212.5">to_dts</text></g>
<g class="t" transform="translate(172,0) scale(.825,1)"><text y="38.5">FK</text><text y="60.25">PK</text></g>
</g>

<g id="S_H_DELIVERY_STATUS" transform="translate(2236.6,891.5)">
<rect class="hd" width="178.8" height="24"/>
<rect class="a" y="24" width="178.8" height="21.75"/><rect class="b" y="45.75" width="178.8" height="21.75"/><rect class="a" y="67.5" width="178.8" height="21.75"/><rect class="b" y="89.25" width="178.8" height="21.75"/><rect class="a" y="111" width="178.8" height="21.75"/><rect class="b" y="132.75" width="178.8" height="21.75"/><rect class="a" y="154.5" width="178.8" height="21.75"/><rect class="b" y="176.25" width="178.8" height="21.75"/>
<path class="cl" d="M45.8,24V198M159,24V198"/>
<text class="ht" transform="translate(89.4,15.6) scale(.83,1)">S_H_DELIVERY_STATUS</text>
<g class="t" transform="translate(5,0) scale(.825,1)"><text y="38.5">binary</text><text y="60.25">binary</text><text y="82">string</text><text y="103.75">string</text><text y="125.5">string</text><text y="147.25">string</text><text y="169">datetime</text><text y="190.75">datetime</text></g>
<g class="t" transform="translate(50.8,0) scale(.825,1)"><text y="38.5">h_delivery_id_hk</text><text y="60.25">s_h_delivery_status_id_hk</text><text y="82">delivery_type</text><text y="103.75">delivery_status</text><text y="125.5">courier_notes</text><text y="147.25">rec_src</text><text y="169">from_dts</text><text y="190.75">to_dts</text></g>
<g class="t" transform="translate(164,0) scale(.825,1)"><text y="38.5">FK</text><text y="60.25">PK</text></g>
</g>
</svg>
